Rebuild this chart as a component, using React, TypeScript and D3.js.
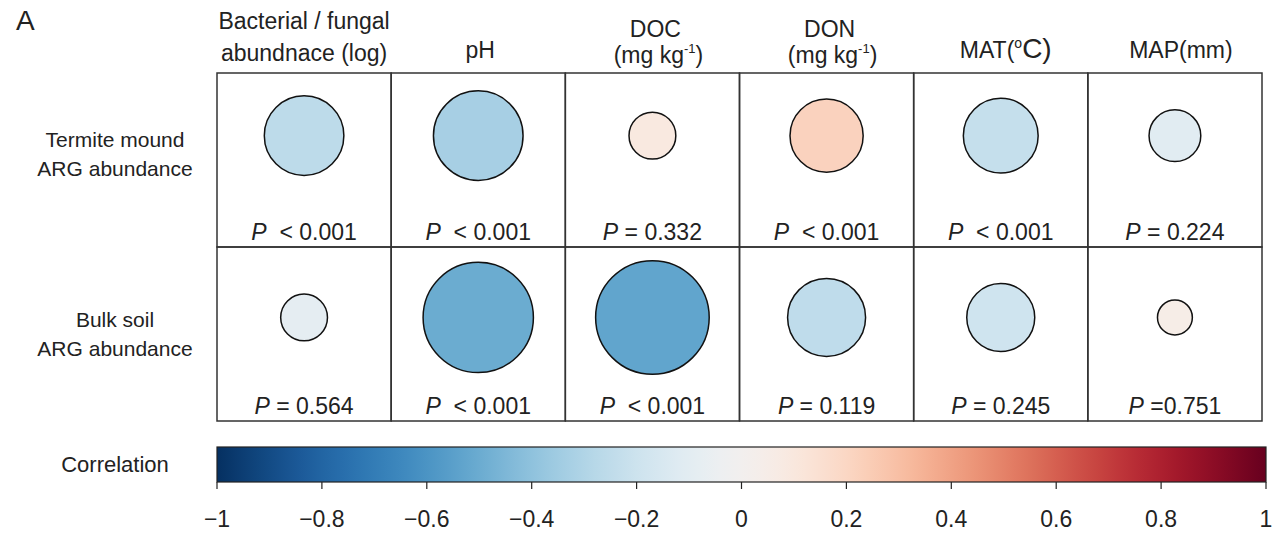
import React from 'react';
import * as d3 from 'd3';

// variables (columns) and rows
const variables = ['BF', 'pH', 'DOC', 'DON', 'MAT', 'MAP'];
const rowLabels = [
  ['Termite mound', 'ARG abundance'],
  ['Bulk soil', 'ARG abundance'],
];

// correlation coefficients
const termiteCorr = [-0.26, -0.33, 0.09, 0.22, -0.23, -0.11];
const bulkCorr = [-0.09, -0.5, -0.53, -0.25, -0.19, 0.05];

// P value labels
const termiteP = ['  < 0.001', '  < 0.001', ' = 0.332', '  < 0.001', '  < 0.001', ' = 0.224'];
const bulkP = [' = 0.564', '  < 0.001', '  < 0.001', ' = 0.119', ' = 0.245', ' =0.751'];

const colorTicks = [-1, -0.8, -0.6, -0.4, -0.2, 0, 0.2, 0.4, 0.6, 0.8, 1];

const FONT = "Arial, 'Liberation Sans', sans-serif";
const INK = '#222';
const HFS = 23;

const Header = ({ name, x }: { name: string; x: number }) => {
  const common = { fontFamily: FONT, fill: INK, textAnchor: 'middle' as const };
  if (name === 'BF') {
    return (
      <g>
        <text x={x} y={29} fontSize={HFS} {...common}>Bacterial / fungal</text>
        <text x={x} y={61} fontSize={HFS} {...common}>abundnace (log)</text>
      </g>
    );
  }
  if (name === 'DOC' || name === 'DON') {
    return (
      <g>
        <text x={x + 3} y={37} fontSize={HFS} {...common}>{name}</text>
        <text x={x + 6} y={63} fontSize={HFS} {...common}>
          (mg kg<tspan fontSize={13} dy={-10}>-1</tspan>
          <tspan dy={10}>)</tspan>
        </text>
      </g>
    );
  }
  if (name === 'MAT') {
    return (
      <text x={x + 5} y={58} fontSize={HFS} {...common}>
        MAT(<tspan fontSize={14} dy={-10}>o</tspan>
        <tspan fontSize={28} dy={10}>C)</tspan>
      </text>
    );
  }
  if (name === 'MAP') {
    return <text x={x + 6} y={58} fontSize={HFS} {...common}>MAP(mm)</text>;
  }
  return <text x={x + 2} y={58} fontSize={HFS} {...common}>{name}</text>;
};

const App = () => {
  const width = 1280;
  const height = 533;

  const gridLeft = 217;
  const gridRight = 1262;
  const gridTop = 73;
  const gridBottom = 421;

  const x = d3.scaleBand<string>().domain(variables).range([gridLeft, gridRight]);
  const y = d3.scaleBand<number>().domain([0, 1]).range([gridTop, gridBottom]);
  const r = d3.scaleSqrt().domain([0, 1]).range([0, 78]);
  const color = (v: number) => d3.interpolateRdBu((1 - v) / 2);

  const rows = [
    { corr: termiteCorr, p: termiteP, cyFrac: 0.36, labelDy: -13 },
    { corr: bulkCorr, p: bulkP, cyFrac: 0.405, labelDy: -7 },
  ];

  // colorbar
  const cb = d3.scaleLinear().domain([-1, 1]).range([217, 1266]);
  const cbTop = 447;
  const cbBottom = 482;
  const stops = d3.range(0, 1.0001, 0.02);

  return (
    <svg width={width} height={height} style={{ position: 'absolute', left: 0, top: 0, background: '#fff' }}>
      <defs>
        <linearGradient id="cbGrad" x1="0" x2="1" y1="0" y2="0">
          {stops.map((t) => (
            <stop key={t} offset={t} stopColor={color(-1 + 2 * t)} />
          ))}
        </linearGradient>
      </defs>

      <text x={16} y={30} fontSize={28} fontFamily={FONT} fill={INK}>A</text>

      {variables.map((v) => (
        <Header key={v} name={v} x={(x(v) as number) + x.bandwidth() / 2} />
      ))}

      {rowLabels.map((lines, i) => {
        const cy = (y(i) as number) + y.bandwidth() / 2 + rows[i].labelDy;
        return (
          <text key={i} fontSize={21} fontFamily={FONT} fill={INK} textAnchor="middle">
            <tspan x={115} y={cy}>{lines[0]}</tspan>
            <tspan x={115} y={cy + 29}>{lines[1]}</tspan>
          </text>
        );
      })}

      {rows.map((row, i) =>
        variables.map((v, j) => {
          const x0 = x(v) as number;
          const y0 = y(i) as number;
          const cx = x0 + x.bandwidth() / 2;
          const val = row.corr[j];
          return (
            <g key={`${i}-${j}`}>
              <rect x={x0} y={y0} width={x.bandwidth()} height={y.bandwidth()} fill="none" stroke="#333" strokeWidth={1.5} />
              <circle cx={cx} cy={y0 + y.bandwidth() * row.cyFrac} r={r(Math.abs(val))} fill={color(val)} stroke="#111" strokeWidth={1.5} />
              <text x={cx} y={y0 + y.bandwidth() - 7} fontSize={23} fontFamily={FONT} fill={INK} textAnchor="middle" style={{ whiteSpace: 'pre' }}>
                <tspan fontStyle="italic">P</tspan>
                {row.p[j]}
              </text>
            </g>
          );
        })
      )}

      <text x={115} y={472} fontSize={22} fontFamily={FONT} fill={INK} textAnchor="middle">Correlation</text>
      <rect x={cb(-1)} y={cbTop} width={cb(1) - cb(-1)} height={cbBottom - cbTop} fill="url(#cbGrad)" stroke="#222" strokeWidth={1.2} />
      {colorTicks.map((t) => (
        <g key={t}>
          <line x1={cb(t)} x2={cb(t)} y1={cbBottom} y2={cbBottom + 7} stroke="#222" strokeWidth={1.2} />
          <text x={cb(t)} y={527} fontSize={23} fontFamily={FONT} fill={INK} textAnchor="middle">
            {d3.format('')(t)}
          </text>
        </g>
      ))}
    </svg>
  );
};

export default App;
